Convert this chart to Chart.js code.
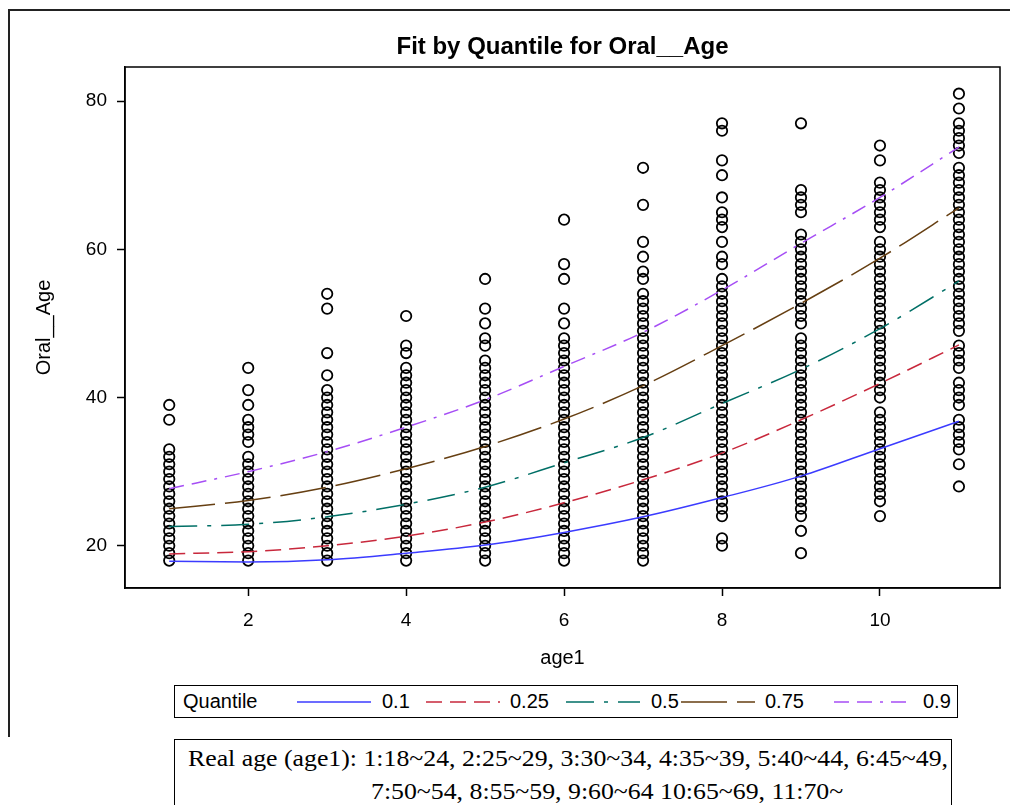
<!DOCTYPE html>
<html>
<head>
<meta charset="utf-8">
<script src="https://cdn.jsdelivr.net/npm/chart.js@4.4.1/dist/chart.umd.min.js"></script>
<style>
  body { margin: 0; background: #fff; width: 1010px; height: 805px; overflow: hidden; position: relative;
         font-family: "Liberation Sans", Arial, sans-serif; }
  #frame { position: absolute; left: 8px; top: 9px; width: 1010px; height: 726px;
           border-left: 2px solid #222; border-top: 2px solid #222; }
  #wrap { position: absolute; left: 0; top: 0; width: 1010px; height: 680px; }
  #legend { position: absolute; left: 174px; top: 685px; width: 784px; height: 33px;
            border: 1px solid #000; box-sizing: border-box; }
  #legend span { position: absolute; top: 4px; font-size: 20px; color: #000; white-space: nowrap; }
  #legend svg { position: absolute; left: 0; top: 0; }
  #note { position: absolute; left: 174px; top: 739px; width: 778px; height: 90px;
          border: 1px solid #000; box-sizing: border-box; }
  #note .ln { position: absolute; font-family: "Liberation Serif", "DejaVu Serif", serif; font-size: 24px;
              color: #000; white-space: nowrap; transform-origin: 0 0; }
</style>
</head>
<body>
<div id="frame"></div>
<div id="wrap"><canvas id="quantChart" width="1010" height="680"></canvas></div>
<div id="legend"></div>
<div id="note">
  <div class="ln" id="ln1" style="left:13px; top:5px;">Real age (age1): 1:18~24, 2:25~29, 3:30~34, 4:35~39, 5:40~44, 6:45~49,</div>
  <div class="ln" id="ln2" style="left:196px; top:38px;">7:50~54, 8:55~59, 9:60~64 10:65~69, 11:70~</div>
</div>
<script>
// observed Oral__Age values for each age1 group
const ageGroups = [1, 2, 3, 4, 5, 6, 7, 8, 9, 10, 11];
const oralAge1 = [18, 19, 20, 21, 22, 23, 24, 25, 26, 27, 28, 29, 30, 31, 32, 33, 37, 39];
const oralAge2 = [18, 19, 20, 21, 22, 23, 24, 25, 26, 27, 28, 29, 30, 31, 32, 34, 35, 36, 37, 39, 41, 44];
const oralAge3 = [18, 19, 20, 21, 22, 23, 24, 25, 26, 27, 28, 29, 30, 31, 32, 33, 34, 35, 36, 37, 38, 39, 40, 41,
                  43, 46, 52, 54];
const oralAge4 = [18, 19, 20, 21, 22, 23, 24, 25, 26, 27, 28, 29, 30, 31, 32, 33, 34, 35, 36, 37, 38, 39, 40, 41,
                  42, 43, 44, 46, 47, 51];
const oralAge5 = [18, 19, 20, 21, 22, 23, 24, 25, 26, 27, 28, 29, 30, 31, 32, 33, 34, 35, 36, 37, 38, 39, 40, 41,
                  42, 43, 44, 45, 47, 48, 50, 52, 56];
const oralAge6 = [18, 19, 20, 21, 22, 23, 24, 25, 26, 27, 28, 29, 30, 31, 32, 33, 34, 35, 36, 37, 38, 39, 40, 41,
                  42, 43, 44, 45, 46, 47, 48, 50, 52, 56, 58, 64];
const oralAge7 = [18, 19, 20, 21, 22, 23, 24, 25, 26, 27, 28, 29, 30, 31, 32, 33, 34, 35, 36, 37, 38, 39, 40, 41,
                  42, 43, 44, 45, 46, 47, 48, 49, 50, 51, 52, 53, 54, 56, 57, 59, 61, 66, 71];
const oralAge8 = [20, 21, 24, 25, 26, 27, 28, 29, 30, 31, 32, 33, 34, 35, 36, 37, 38, 39, 40, 41, 42, 43, 44, 45,
                  46, 47, 48, 49, 50, 51, 52, 53, 54, 55, 56, 58, 59, 61, 63, 64, 65, 67, 70, 72, 76, 77];
const oralAge9 = [19, 22, 24, 25, 26, 27, 28, 29, 30, 31, 32, 33, 34, 35, 36, 37, 38, 39, 40, 41, 42, 43, 44, 45,
                  46, 47, 48, 50, 51, 52, 53, 54, 55, 56, 57, 58, 59, 60, 61, 62, 65, 66, 67, 68, 77];
const oralAge10 = [24, 26, 27, 28, 29, 30, 31, 32, 33, 34, 35, 36, 37, 38, 40, 41, 42, 43, 44, 45, 46, 47, 48, 49,
                   50, 51, 52, 53, 54, 55, 56, 57, 58, 59, 60, 61, 63, 64, 65, 66, 67, 68, 69, 72, 74];
const oralAge11 = [28, 31, 33, 34, 35, 36, 37, 39, 40, 41, 42, 44, 45, 46, 47, 49, 50, 51, 52, 53, 54, 55, 56, 57,
                   58, 59, 60, 61, 62, 63, 64, 65, 66, 67, 68, 69, 70, 71, 73, 74, 75, 76, 77, 79, 81];
const oralByGroup = [oralAge1, oralAge2, oralAge3, oralAge4, oralAge5, oralAge6, oralAge7, oralAge8, oralAge9,
                     oralAge10, oralAge11];

// fitted quantile curves at age1 = 1..11
const q10 = [17.9, 17.8, 18.1, 19.0, 20.1, 21.8, 23.9, 26.5, 29.4, 33.1, 36.8];
const q25 = [18.9, 19.2, 20.0, 21.3, 23.2, 25.8, 28.9, 32.5, 37.0, 41.9, 47.1];
const q50 = [22.6, 22.9, 23.9, 25.6, 27.9, 31.2, 34.6, 39.2, 43.8, 49.3, 55.7];
const q75 = [25.0, 26.1, 27.9, 30.4, 33.4, 37.1, 41.6, 47.0, 52.7, 58.8, 65.6];
const q90 = [27.7, 30.0, 32.7, 36.0, 39.7, 44.2, 48.8, 54.5, 60.8, 67.0, 73.8];
const quantileLabels = ["0.1", "0.25", "0.5", "0.75", "0.9"];
const quantileSeries = [q10, q25, q50, q75, q90];

const xTicks = [2, 4, 6, 8, 10];
const yTicks = [20, 40, 60, 80];

const lineColors = ["#3b3bff", "#c8283c", "#006f66", "#663f12", "#a64ef5"];
const lineDashes = [[], [16, 8], [28, 10, 4, 10], [46, 10], [15, 8, 15, 8, 3, 8]];

const scatterPoints = [];
oralByGroup.forEach((vals, i) => {
  vals.forEach(v => scatterPoints.push({ x: ageGroups[i], y: v }));
});

const lineSets = quantileSeries.map((vals, i) => ({
  type: "line",
  label: quantileLabels[i],
  data: vals.map((v, j) => ({ x: ageGroups[j], y: v })),
  borderColor: lineColors[i],
  borderWidth: 1.5,
  borderDash: lineDashes[i],
  pointRadius: 0,
  cubicInterpolationMode: "monotone",
  fill: false
}));

const frameBox = {
  id: "frameBox",
  afterDraw(c) {
    const { left, top, right, bottom } = c.chartArea;
    const ctx = c.ctx;
    ctx.save();
    ctx.strokeStyle = "#000";
    ctx.lineWidth = 1.5;
    ctx.strokeRect(left, top, right - left, bottom - top);
    ctx.restore();
  }
};

const axisFont = { family: "'Liberation Sans', Arial, sans-serif", size: 19 };

new Chart(document.getElementById("quantChart").getContext("2d"), {
  type: "scatter",
  data: {
    datasets: [
      ...lineSets,
      {
        type: "scatter",
        label: "Oral__Age",
        data: scatterPoints,
        pointStyle: "circle",
        pointRadius: 5.2,
        pointBorderWidth: 1.8,
        borderColor: "#000",
        backgroundColor: "rgba(0,0,0,0)"
      }
    ]
  },
  options: {
    responsive: false,
    animation: false,
    devicePixelRatio: 1,
    layout: { padding: { left: 0, right: 10, top: 0, bottom: 0 } },
    plugins: {
      legend: { display: false },
      tooltip: { enabled: false },
      title: {
        display: true,
        fullSize: false,
        text: "Fit by Quantile for Oral__Age",
        color: "#000",
        font: { family: "'Liberation Sans', Arial, sans-serif", size: 24, weight: "bold" },
        padding: { top: 33, bottom: 5.2 }
      }
    },
    scales: {
      x: {
        type: "linear",
        min: 0.44,
        max: 11.52,
        afterBuildTicks: s => { s.ticks = xTicks.map(v => ({ value: v })); },
        afterFit: s => { s.height = 92; },
        grid: { drawOnChartArea: false, tickLength: 8, color: "#000", tickWidth: 1.5 },
        border: { color: "#000", width: 1.5 },
        ticks: { color: "#000", font: axisFont, padding: 13, maxRotation: 0 },
        title: { display: true, text: "age1", color: "#000", font: { ...axisFont, size: 20 },
                 padding: { top: 0, bottom: 10 } }
      },
      y: {
        min: 14.3,
        max: 84.6,
        afterBuildTicks: s => { s.ticks = yTicks.map(v => ({ value: v })); },
        afterFit: s => { s.width = 125; },
        grid: { drawOnChartArea: false, tickLength: 8, color: "#000", tickWidth: 1.5 },
        border: { color: "#000", width: 1.5 },
        ticks: { color: "#000", font: axisFont, padding: 10 },
        title: { display: true, text: "Oral__Age", color: "#000", font: { ...axisFont, size: 20 },
                 padding: { top: 32, bottom: 0 } }
      }
    }
  },
  plugins: [frameBox]
});

// legend box
const legendSampleX = [122, 251, 391, 506, 659];
const legendLabelX = [207, 335, 476, 590, 748];
const legend = document.getElementById("legend");
const svgNS = "http://www.w3.org/2000/svg";
const svg = document.createElementNS(svgNS, "svg");
svg.setAttribute("width", "784");
svg.setAttribute("height", "33");
quantileLabels.forEach((lab, i) => {
  const ln = document.createElementNS(svgNS, "line");
  ln.setAttribute("x1", legendSampleX[i]);
  ln.setAttribute("x2", legendSampleX[i] + 74);
  ln.setAttribute("y1", 16);
  ln.setAttribute("y2", 16);
  ln.setAttribute("stroke", lineColors[i]);
  ln.setAttribute("stroke-width", 1.5);
  if (lineDashes[i].length) ln.setAttribute("stroke-dasharray", lineDashes[i].join(" "));
  svg.appendChild(ln);
  const sp = document.createElement("span");
  sp.textContent = lab;
  sp.style.left = legendLabelX[i] + "px";
  legend.appendChild(sp);
});
legend.appendChild(svg);
const qt = document.createElement("span");
qt.textContent = "Quantile";
qt.style.left = "8px";
legend.appendChild(qt);

// fit the note lines to their widths
const ln1 = document.getElementById("ln1");
const ln2 = document.getElementById("ln2");
const sx = 760 / ln1.getBoundingClientRect().width;
ln1.style.transform = "scaleX(" + sx + ")";
ln2.style.transform = "scaleX(" + sx + ")";
</script>
</body>
</html>
